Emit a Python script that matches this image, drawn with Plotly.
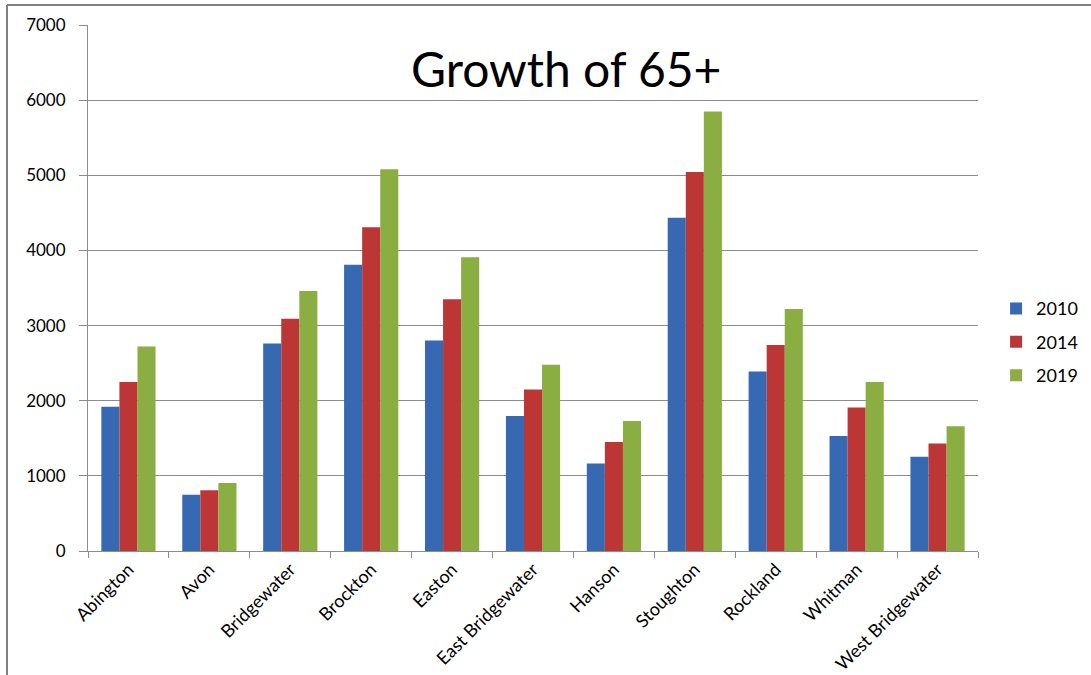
import plotly.graph_objects as go

towns = ['Abington', 'Avon', 'Bridgewater', 'Brockton', 'Easton',
         'East Bridgewater', 'Hanson', 'Stoughton', 'Rockland', 'Whitman',
         'West Bridgewater']
pop_2010 = [1920, 750, 2760, 3810, 2800, 1795, 1165, 4435, 2390, 1530, 1255]
pop_2014 = [2250, 810, 3090, 4310, 3350, 2150, 1450, 5045, 2740, 1910, 1430]
pop_2019 = [2720, 905, 3460, 5080, 3910, 2480, 1730, 5850, 3220, 2250, 1660]

years = ['2010', '2014', '2019']
colors = ['#3669b2', '#bb3635', '#8aae42']

fig = go.Figure()
for name, vals, c in zip(years, [pop_2010, pop_2014, pop_2019], colors):
    fig.add_trace(go.Bar(x=towns, y=vals, name=name, marker_color=c,
                         marker_line_width=0, legendgroup=name))

font_name = 'Lato, Carlito, Calibri, sans-serif'
grid = '#8c8c8c'

fig.update_layout(
    width=1091, height=675,
    paper_bgcolor='white', plot_bgcolor='white',
    margin=dict(l=88, r=113, t=25, b=124),
    barmode='group', bargap=0.33, bargroupgap=0,
    font=dict(family=font_name, color='black', size=16),
    # legend placed against the whole canvas so it doesn't push the margin
    legend=dict(xref='container', yref='container', x=0.913, y=0.493,
                yanchor='middle', xanchor='left',
                font=dict(size=18), tracegroupgap=7, itemsizing='constant'),
    showlegend=True,
)
fig.update_yaxes(range=[0, 7000], dtick=1000, showgrid=True, gridcolor=grid,
                 gridwidth=1, showline=True, linecolor=grid, ticks='outside',
                 ticklen=8, tickcolor=grid, zeroline=False, automargin=False,
                 tickfont=dict(size=17), ticklabelstandoff=10)
fig.update_xaxes(showline=True, linecolor=grid, ticks='outside', ticklen=6,
                 tickcolor=grid, tickson='boundaries', tickangle=-45,
                 automargin=False, tickfont=dict(size=18), showgrid=False)

fig.add_annotation(text='Growth of 65+', xref='paper', yref='paper',
                   x=0.537, y=0.918, xanchor='center', yanchor='middle',
                   showarrow=False,
                   font=dict(size=48, family=font_name, color='black'))

# outer chart border (top and left edges)
fig.add_shape(type='line', xref='paper', yref='paper',
              x0=-0.091, x1=1.128, y0=1.038, y1=1.038,
              line=dict(color='#7f7f7f', width=2))
fig.add_shape(type='line', xref='paper', yref='paper',
              x0=-0.091, x1=-0.091, y0=1.038, y1=-0.25,
              line=dict(color='#7f7f7f', width=2))

# drop the browser's default page margin so the chart sits at 0,0
fig.write_html('out.html', config={'displayModeBar': False},
               post_script="document.body.style.margin='0';")
